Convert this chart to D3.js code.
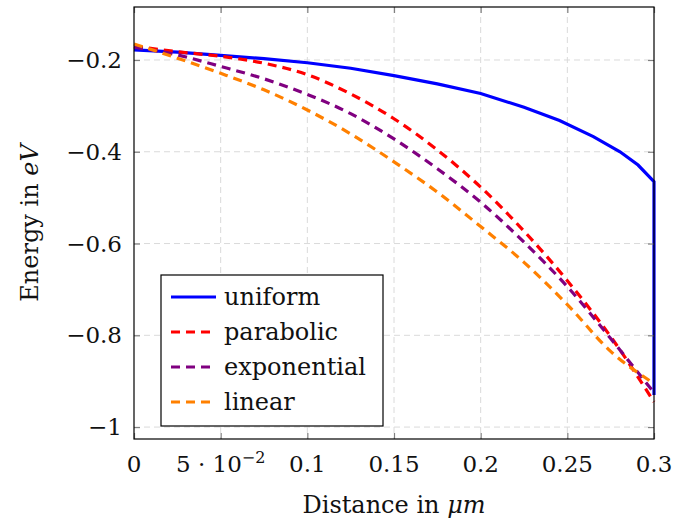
<!DOCTYPE html>
<html>
<head>
<meta charset="UTF-8" />
<title>Energy vs distance</title>
<script src="https://cdn.jsdelivr.net/npm/d3@7"></script>
<style>
body{margin:0;background:#fff;}
text{font-family:"DejaVu Serif",serif;fill:#111;}
</style>
</head>
<body>
<div id="chart"></div>
<script>
// data
var distance=[0,0.025,0.05,0.075,0.1,0.125,0.15,0.175,0.2,0.225,0.25,0.275,0.3];
var parabolic=[-0.170,-0.182,-0.192,-0.207,-0.232,-0.274,-0.328,-0.396,-0.477,-0.573,-0.681,-0.803,-0.945];
var exponential=[-0.172,-0.189,-0.214,-0.241,-0.275,-0.317,-0.372,-0.437,-0.510,-0.597,-0.694,-0.807,-0.925];
var linear=[-0.165,-0.196,-0.229,-0.265,-0.309,-0.361,-0.422,-0.488,-0.563,-0.641,-0.733,-0.835,-0.905];
var uniformX=[0,0.025,0.05,0.075,0.1,0.125,0.15,0.175,0.2,0.225,0.2455,0.265,0.2804,0.2908,0.3,0.3];
var uniform=[-0.178,-0.183,-0.190,-0.197,-0.206,-0.218,-0.234,-0.252,-0.273,-0.303,-0.332,-0.367,-0.400,-0.429,-0.465,-0.930];
var xTicks=[0,0.05,0.1,0.15,0.2,0.25,0.3];
var yTicks=[-1,-0.8,-0.6,-0.4,-0.2];

var w=675,h=524;
var pLeft=134,pRight=654,pTop=7,pBottom=439;

var svg=d3.select('#chart').append('svg')
  .attr('width',w).attr('height',h);

var x=d3.scaleLinear().domain([0,0.3]).range([pLeft,pRight]);
var y=d3.scaleLinear().domain([-1.026,-0.0845]).range([pBottom,pTop]);

// grid
var grid=svg.append('g').attr('stroke','#dadada').attr('stroke-dasharray','6,4').attr('stroke-width',1);
grid.selectAll('.vx').data(xTicks.slice(1,-1)).enter().append('line')
  .attr('x1',function(d){return x(d);}).attr('x2',function(d){return x(d);})
  .attr('y1',pTop).attr('y2',pBottom);
grid.selectAll('.hy').data(yTicks).enter().append('line')
  .attr('y1',function(d){return y(d);}).attr('y2',function(d){return y(d);})
  .attr('x1',pLeft).attr('x2',pRight);

// curves
var series=[
  {name:'uniform',xs:uniformX,ys:uniform,color:'#0000ff',dash:null,curve:d3.curveLinear},
  {name:'parabolic',xs:distance,ys:parabolic,color:'#ff0000',dash:'9,6',curve:d3.curveMonotoneX},
  {name:'exponential',xs:distance,ys:exponential,color:'#800080',dash:'9,6',curve:d3.curveMonotoneX},
  {name:'linear',xs:distance,ys:linear,color:'#ff8000',dash:'9,6',curve:d3.curveMonotoneX}
];

series.forEach(function(s){
  var pts=s.xs.map(function(d,i){return [d,s.ys[i]];});
  var line=d3.line().x(function(d){return x(d[0]);}).y(function(d){return y(d[1]);}).curve(s.curve);
  svg.append('path').datum(pts)
    .attr('d',line)
    .attr('fill','none')
    .attr('stroke',s.color)
    .attr('stroke-width',3.2)
    .attr('stroke-dasharray',s.dash);
});

// axes (ticks inward on all four sides)
var tickLen=6;
var xb=d3.axisBottom(x).tickValues(xTicks).tickSize(-tickLen).tickFormat('');
var xt=d3.axisTop(x).tickValues(xTicks).tickSize(-tickLen).tickFormat('');
var yl=d3.axisLeft(y).tickValues(yTicks).tickSize(-tickLen).tickFormat('');
var yr=d3.axisRight(y).tickValues(yTicks).tickSize(-tickLen).tickFormat('');
[[xb,'translate(0,'+pBottom+')'],[xt,'translate(0,'+pTop+')'],[yl,'translate('+pLeft+',0)'],[yr,'translate('+pRight+',0)']].forEach(function(a){
  var g=svg.append('g').attr('transform',a[1]).call(a[0]);
  g.select('.domain').remove();
  g.selectAll('.tick line').attr('stroke','#808080').attr('stroke-width',1.2);
});

svg.append('rect').attr('x',pLeft).attr('y',pTop)
  .attr('width',pRight-pLeft).attr('height',pBottom-pTop)
  .attr('fill','none').attr('stroke','#000').attr('stroke-width',1.2);

// tick labels
var xl=svg.append('g').attr('font-size',23).attr('text-anchor','middle');
xTicks.forEach(function(d){
  var t=xl.append('text').attr('x',x(d)).attr('y',pBottom+33);
  if(d===0.05){
    t.append('tspan').text('5 · 10');
    t.append('tspan').attr('dy',-9).attr('font-size',16).text('−2');
  }else{
    t.text(d3.format('~g')(d));
  }
});
var ylab=svg.append('g').attr('font-size',23).attr('text-anchor','end');
yTicks.forEach(function(d){
  ylab.append('text').attr('x',pLeft-12).attr('y',y(d)+8)
    .text(d3.format('~g')(d).replace('-','−'));
});

// axis titles
var xTitle=svg.append('text').attr('x',(pLeft+pRight)/2).attr('y',513)
  .attr('text-anchor','middle').attr('font-size',24);
xTitle.append('tspan').text('Distance in ');
xTitle.append('tspan').attr('font-style','italic').text('μm');

var yTitle=svg.append('text').attr('transform','translate(38,'+((pTop+pBottom)/2)+') rotate(-90)')
  .attr('text-anchor','middle').attr('font-size',24);
yTitle.append('tspan').text('Energy in ');
yTitle.append('tspan').attr('font-style','italic').text('eV');

// legend
var lg=svg.append('g').attr('transform','translate(161,275)');
lg.append('rect').attr('width',222).attr('height',151)
  .attr('fill','#fff').attr('stroke','#000').attr('stroke-width',1.2);
series.forEach(function(s,i){
  var yy=22+i*35;
  lg.append('line').attr('x1',10).attr('x2',55).attr('y1',yy).attr('y2',yy)
    .attr('stroke',s.color).attr('stroke-width',3.2).attr('stroke-dasharray',s.dash);
  lg.append('text').attr('x',63).attr('y',yy+8).attr('font-size',24).text(s.name);
});
</script>
</body>
</html>
